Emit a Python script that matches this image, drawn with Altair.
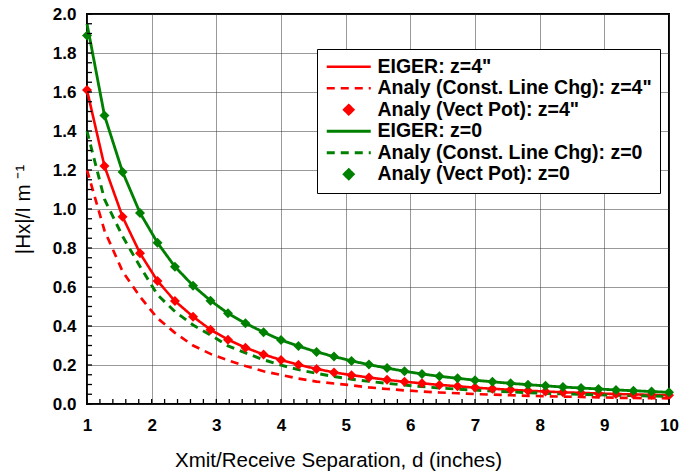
import altair as alt
import pandas as pd

# ---- data ----
x_vals = [1.00, 1.27, 1.55, 1.82, 2.09, 2.36, 2.64, 2.91, 3.18, 3.45, 3.73, 4.00,
          4.27, 4.55, 4.82, 5.09, 5.36, 5.64, 5.91, 6.18, 6.45, 6.73, 7.00, 7.27,
          7.55, 7.82, 8.09, 8.36, 8.64, 8.91, 9.18, 9.45, 9.73, 10.00]

eiger_z4 = [1.61, 1.22, 0.96, 0.773, 0.631, 0.528, 0.448, 0.381, 0.330, 0.289, 0.254, 0.226,
            0.201, 0.180, 0.162, 0.148, 0.136, 0.124, 0.114, 0.106, 0.098, 0.091, 0.084, 0.078,
            0.073, 0.068, 0.064, 0.060, 0.057, 0.054, 0.051, 0.049, 0.047, 0.045]
const_z4 = [1.20, 0.89, 0.68, 0.55, 0.44, 0.365, 0.300, 0.257, 0.224, 0.195, 0.168, 0.149,
            0.130, 0.115, 0.105, 0.096, 0.085, 0.077, 0.070, 0.064, 0.059, 0.055, 0.051, 0.048,
            0.045, 0.042, 0.040, 0.038, 0.036, 0.034, 0.032, 0.031, 0.030, 0.029]
vect_z4 = [1.61, 1.22, 0.96, 0.773, 0.631, 0.528, 0.448, 0.381, 0.330, 0.289, 0.254, 0.226,
           0.201, 0.180, 0.162, 0.148, 0.136, 0.124, 0.114, 0.106, 0.098, 0.091, 0.084, 0.078,
           0.073, 0.068, 0.064, 0.060, 0.057, 0.054, 0.051, 0.049, 0.047, 0.045]
eiger_z0 = [1.95, 1.48, 1.19, 0.98, 0.827, 0.704, 0.607, 0.530, 0.465, 0.414, 0.368, 0.328,
            0.297, 0.267, 0.243, 0.221, 0.202, 0.184, 0.168, 0.154, 0.142, 0.132, 0.122, 0.114,
            0.106, 0.099, 0.093, 0.087, 0.082, 0.077, 0.072, 0.068, 0.064, 0.060]
const_z0 = [1.40, 1.05, 0.86, 0.705, 0.56, 0.474, 0.405, 0.354, 0.298, 0.262, 0.227, 0.199,
            0.176, 0.157, 0.141, 0.127, 0.116, 0.106, 0.097, 0.089, 0.082, 0.076, 0.071, 0.066,
            0.062, 0.058, 0.055, 0.052, 0.049, 0.047, 0.045, 0.043, 0.041, 0.039]
vect_z0 = [1.89, 1.48, 1.19, 0.98, 0.827, 0.704, 0.607, 0.530, 0.465, 0.414, 0.368, 0.328,
           0.297, 0.267, 0.243, 0.221, 0.202, 0.184, 0.168, 0.154, 0.142, 0.132, 0.122, 0.114,
           0.106, 0.099, 0.093, 0.087, 0.082, 0.077, 0.072, 0.068, 0.064, 0.060]

series_names = ['EIGER: z=4"', 'Analy (Const. Line Chg): z=4"', 'Analy (Vect Pot): z=4"',
                'EIGER: z=0', 'Analy (Const. Line Chg): z=0', 'Analy (Vect Pot): z=0']
series_values = [eiger_z4, const_z4, vect_z4, eiger_z0, const_z0, vect_z0]
line_series = [0, 1, 3, 4]
point_series = [2, 5]

x_tick_labels = [1, 2, 3, 4, 5, 6, 7, 8, 9, 10]
y_tick_labels = [0.0, 0.2, 0.4, 0.6, 0.8, 1.0, 1.2, 1.4, 1.6, 1.8, 2.0]
# minor tick positions (inward ticks along the frame)
x_minor = [round(1 + 0.2 * k, 2) for k in range(46)]
y_minor = [round(0.05 * k, 2) for k in range(41)]

# ---- styling ----
RED = "#ff0000"
GREEN = "#008000"
DIAMOND = "M0,-0.55L0.55,0L0,0.55L-0.55,0Z"
LINE = "M-2.75,0L2.75,0"
series_colors = [RED, RED, RED, GREEN, GREEN, GREEN]
series_dashes = [[1, 0], [8, 6], [1, 0], [1, 0], [8, 6], [1, 0]]
series_shapes = [LINE, LINE, DIAMOND, LINE, LINE, DIAMOND]
series_widths = [2.6, 3.0, 2.6, 2.6, 3.0, 2.6]

FONT = "Liberation Sans"
W, H = 582, 390

line_df = pd.DataFrame([
    {"x": xv, "y": yv, "series": series_names[i], "order": j}
    for i in line_series for j, (xv, yv) in enumerate(zip(x_vals, series_values[i]))
])
point_df = pd.DataFrame([
    {"x": xv, "y": yv, "series": series_names[i]}
    for i in point_series for xv, yv in zip(x_vals, series_values[i])
])
xtick_df = pd.DataFrame({"v": x_minor})
ytick_df = pd.DataFrame({"v": y_minor})

x_scale = alt.Scale(domain=[1, 10], nice=False, zero=False)
y_scale = alt.Scale(domain=[0, 2], nice=False)

color_enc = alt.Color("series:N", scale=alt.Scale(domain=series_names, range=series_colors),
                      legend=alt.Legend(title=None))
dash_enc = alt.StrokeDash("series:N", scale=alt.Scale(domain=series_names, range=series_dashes),
                          legend=alt.Legend(title=None))
shape_enc = alt.Shape("series:N", scale=alt.Scale(domain=series_names, range=series_shapes),
                      legend=alt.Legend(title=None))
width_enc = alt.StrokeWidth("series:N", scale=alt.Scale(domain=series_names, range=series_widths),
                            legend=None)

X_TITLE = "Xmit/Receive Separation, d (inches)"
Y_TITLE = "|Hx|/I   m ⁻¹"
x_axis = alt.Axis(values=x_tick_labels, tickCount=100, format="d", title=X_TITLE,
                  grid=True, ticks=False, labelPadding=13, titlePadding=17, titleX=251,
                  labelFlush=False, labelOverlap=False)
y_axis = alt.Axis(values=y_tick_labels, tickCount=100, format=".1f", title=Y_TITLE,
                  grid=True, ticks=False, labelPadding=11, titlePadding=19,
                  labelFlush=False, labelOverlap=False)

lines = alt.Chart(line_df).mark_line().encode(
    x=alt.X("x:Q", scale=x_scale, axis=x_axis, title=X_TITLE),
    y=alt.Y("y:Q", scale=y_scale, axis=y_axis, title=Y_TITLE),
    color=color_enc, strokeDash=dash_enc, strokeWidth=width_enc,
    order="order:Q"
)

points = alt.Chart(point_df).mark_point(filled=True, size=330, opacity=1).encode(
    x=alt.X("x:Q", scale=x_scale, axis=x_axis, title=X_TITLE),
    y=alt.Y("y:Q", scale=y_scale, axis=y_axis, title=Y_TITLE),
    color=color_enc, shape=shape_enc
)

xticks = alt.Chart(xtick_df).mark_tick(orient="vertical", size=5, thickness=1.3,
                                        color="#000", opacity=1, yOffset=-2.5).encode(
    x=alt.X("v:Q", scale=x_scale, axis=x_axis, title=X_TITLE),
    y=alt.datum(0, scale=y_scale, axis=y_axis, title=Y_TITLE),
)
yticks = alt.Chart(ytick_df).mark_tick(orient="horizontal", size=5, thickness=1.3,
                                        color="#000", opacity=1, xOffset=2.5).encode(
    y=alt.Y("v:Q", scale=y_scale, axis=y_axis, title=Y_TITLE),
    x=alt.datum(1, scale=x_scale, axis=x_axis, title=X_TITLE),
)

chart = alt.layer(lines, points, xticks, yticks).properties(
    width=W, height=H,
    autosize=alt.AutoSizeParams(type="none"),
    padding={"left": 87, "top": 14, "right": 11, "bottom": 71},
    background="white",
).configure_view(
    stroke="#000", strokeWidth=2
).configure_axis(
    labelFont=FONT, labelFontSize=17, labelFontWeight="bold", labelColor="#000",
    titleFont=FONT, titleFontSize=20.5, titleFontWeight="normal", titleColor="#000",
    domain=False, gridColor="#333", gridDash=[1, 1], gridWidth=1,
).configure_legend(
    orient="none", legendX=230, legendY=35,
    strokeColor="#000", fillColor="#fff", padding=8,
    labelFont=FONT, labelFontSize=19.5, labelFontWeight="bold", labelColor="#000",
    labelLimit=0, labelOffset=19, rowPadding=0.5, symbolOffset=14,
    symbolSize=256, symbolStrokeWidth=2.5,
    cornerRadius=0,
)

chart.save("out.html", embed_options={"renderer": "svg", "actions": False})
